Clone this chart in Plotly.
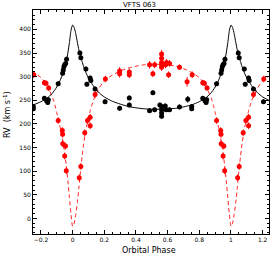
import numpy as np
import plotly.graph_objects as go

# Primary (black) observed RVs, phase in [0,1)
p_phase = [0.046, 0.052, 0.084, 0.090, 0.111, 0.115, 0.142, 0.205, 0.297, 0.358, 0.358,
           0.486, 0.507, 0.518, 0.551, 0.562, 0.562, 0.562, 0.562, 0.585, 0.591, 0.612,
           0.675, 0.727, 0.752, 0.752, 0.822, 0.836, 0.843, 0.847, 0.909, 0.937, 0.941,
           0.945, 0.950, 0.956, 0.962]
p_rv = [350, 340, 316, 284, 297, 292, 274, 247, 233, 255, 240,
        228, 266, 230, 240, 237, 230, 223, 216, 238, 230, 230,
        236, 252, 237, 232, 254, 249, 245, 251, 285, 307, 314,
        321, 325, 328, 337]
p_err = [5, 5, 5, 5, 5, 5, 5, 5, 5, 5, 5,
         5, 5, 5, 5, 5, 5, 5, 5, 5, 5, 5,
         5, 7, 5, 5, 5, 5, 5, 5, 5, 5, 5,
         5, 5, 5, 5]

# Secondary (red) observed RVs
s_phase = [0.042, 0.052, 0.077, 0.094, 0.111, 0.111, 0.142, 0.207, 0.297, 0.297, 0.358,
           0.358, 0.486, 0.507, 0.518, 0.562, 0.562, 0.562, 0.562, 0.562, 0.587, 0.593,
           0.606, 0.612, 0.675, 0.723, 0.755, 0.822, 0.832, 0.849, 0.909, 0.935, 0.937,
           0.938, 0.955, 0.950, 0.960]
s_rv = [86, 110, 181, 207, 214, 196, 262, 295, 312, 306, 310,
        304, 325, 306, 325, 348, 339, 330, 325, 320, 325, 330,
        304, 328, 320, 289, 304, 287, 286, 276, 207, 186, 178,
        158, 153, 132, 101]
s_err = [7, 7, 7, 7, 7, 7, 7, 7, 8, 8, 7,
         7, 8, 7, 7, 8, 8, 8, 8, 8, 7, 7,
         7, 7, 6, 10, 7, 6, 6, 6, 7, 7, 7,
         7, 7, 7, 7]

# Model curves (one period)
m1_phase = [0.00, 0.01, 0.02, 0.03, 0.04, 0.05, 0.06, 0.07, 0.08, 0.09, 0.10, 0.12, 0.14,
            0.17, 0.20, 0.25, 0.30, 0.35, 0.40, 0.45, 0.50, 0.55, 0.60, 0.65, 0.70, 0.75,
            0.80, 0.84, 0.87, 0.90, 0.92, 0.94, 0.95, 0.96, 0.97, 0.98, 0.99, 1.00]
m1_rv = [409, 404, 391, 373, 356, 343, 332, 321, 312, 304, 297, 286, 276,
         265, 257, 248, 242, 237, 234, 232, 231, 231, 231.5, 233, 236, 240,
         247, 255, 264, 278, 291, 308, 319, 332, 350, 372, 398, 409]

m2_phase = [0.00, 0.01, 0.02, 0.03, 0.04, 0.05, 0.06, 0.07, 0.08, 0.09, 0.10, 0.11, 0.12,
            0.14, 0.17, 0.20, 0.25, 0.30, 0.35, 0.40, 0.45, 0.50, 0.55, 0.60, 0.65, 0.70,
            0.75, 0.80, 0.84, 0.88, 0.89, 0.90, 0.91, 0.92, 0.93, 0.94, 0.95, 0.96, 0.97,
            0.98, 0.99, 1.00]
m2_rv = [-17, -10, 8, 33, 66, 100, 131, 158, 180, 198, 213, 226, 238,
         257, 277, 291, 303, 312, 318, 322, 325, 326, 326, 325, 322, 317,
         309, 298, 281, 250, 238, 224, 210, 195, 178, 160, 138, 112, 80,
         44, 8, -17]

XMIN, XMAX = -0.25, 1.24
YMIN, YMAX = -33, 441


def fold(ph, v, e):
    ph = np.asarray(ph, float)
    v = np.asarray(v, float)
    e = np.asarray(e, float)
    xs, ys, es = [], [], []
    for sh in (-1, 0, 1):
        x = ph + sh
        m = (x >= XMIN - 0.02) & (x <= XMAX + 0.02)
        xs.append(x[m]); ys.append(v[m]); es.append(e[m])
    return np.concatenate(xs), np.concatenate(ys), np.concatenate(es)


def fold_curve(ph, v):
    ph = np.asarray(ph, float)
    v = np.asarray(v, float)
    x = np.concatenate([ph[:-1] - 1, ph[:-1], ph + 1])
    y = np.concatenate([v[:-1], v[:-1], v])
    m = (x >= XMIN - 0.06) & (x <= XMAX + 0.06)
    return x[m], y[m]


FONT = "DejaVu Sans"
W, H = 274, 256
ML, MR, MT, MB = 33, 5, 10, 22
PW, PH = W - ML - MR, H - MT - MB

fig = go.Figure()

cx, cy = fold_curve(m2_phase, m2_rv)
fig.add_trace(go.Scatter(x=cx, y=cy, mode="lines",
                         line=dict(color="#ff2020", width=1, dash="4px,3px", shape="spline", smoothing=0.6),
                         hoverinfo="skip"))
cx, cy = fold_curve(m1_phase, m1_rv)
fig.add_trace(go.Scatter(x=cx, y=cy, mode="lines",
                         line=dict(color="black", width=1, shape="spline", smoothing=0.6),
                         hoverinfo="skip"))

sx, sy, se = fold(s_phase, s_rv, s_err)
fig.add_trace(go.Scatter(x=sx, y=sy, mode="markers",
                         marker=dict(color="#ff0000", size=5),
                         error_y=dict(type="data", array=se, color="#ff0000", thickness=1, width=0)))
px, py, pe = fold(p_phase, p_rv, p_err)
fig.add_trace(go.Scatter(x=px, y=py, mode="markers",
                         marker=dict(color="black", size=5),
                         error_y=dict(type="data", array=pe, color="black", thickness=1, width=0)))

axis_common = dict(showgrid=False, zeroline=False, showline=True, linecolor="black", linewidth=1,
                   mirror="allticks", ticks="inside", ticklen=4, tickcolor="black", tickwidth=1,
                   automargin=False,
                   tickfont=dict(family=FONT, size=6, color="black"))

fig.update_xaxes(range=[XMIN, XMAX], dtick=0.2, tick0=0,
                 minor=dict(dtick=0.05, ticks="inside", ticklen=2, tickcolor="black", showgrid=False),
                 **axis_common)
fig.update_yaxes(range=[YMIN, YMAX], dtick=50, tick0=0,
                 minor=dict(dtick=10, ticks="inside", ticklen=2, tickcolor="black", showgrid=False),
                 **axis_common)


def px_x(p):
    return (p - ML) / PW


def px_y(p):
    return (H - MB - p) / PH


fig.update_layout(
    template="none",
    width=W, height=H,
    margin=dict(l=ML, r=MR, t=MT, b=MB, autoexpand=False),
    paper_bgcolor="white", plot_bgcolor="white",
    showlegend=False,
    hovermode=False,
    font=dict(family=FONT, color="black"),
    annotations=[
        dict(text="VFTS 063", xref="paper", yref="paper", x=px_x(139.5), y=px_y(5),
             xanchor="center", yanchor="middle", showarrow=False,
             font=dict(family=FONT, size=7, color="black")),
        dict(text="Orbital Phase", xref="paper", yref="paper", x=px_x(149), y=px_y(250),
             xanchor="center", yanchor="middle", showarrow=False,
             font=dict(family=FONT, size=8, color="black")),
        dict(text="RV  (km s<sup>-1</sup>)", xref="paper", yref="paper", x=px_x(7), y=px_y(115),
             xanchor="center", yanchor="middle", showarrow=False, textangle=-90,
             font=dict(family=FONT, size=8, color="black")),
    ],
)

fig.write_html("out.html", config={"displayModeBar": False, "staticPlot": True},
               post_script="document.body.style.margin='0px';document.body.style.overflow='hidden';")
